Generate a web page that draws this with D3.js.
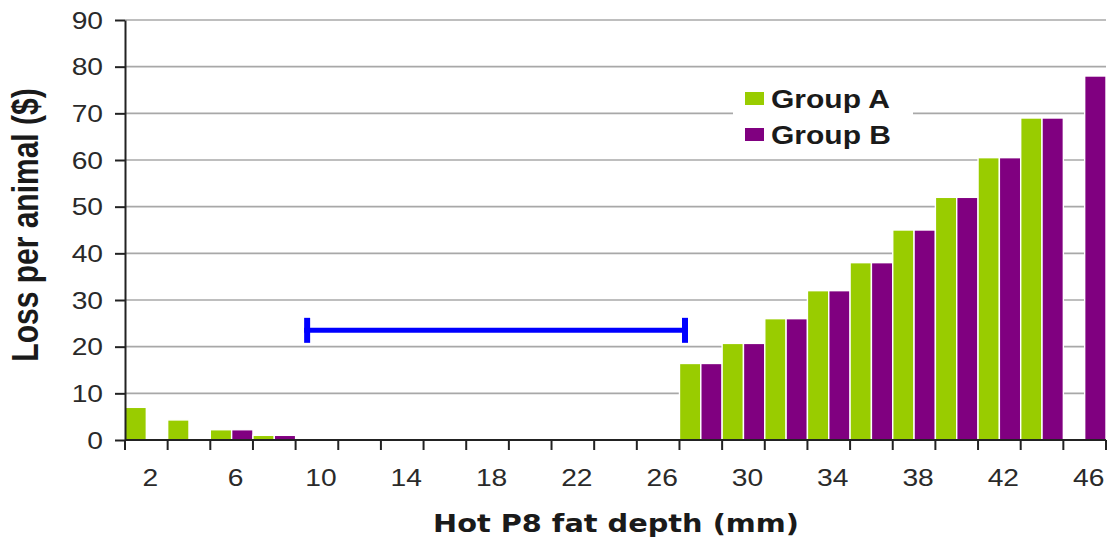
<!DOCTYPE html>
<html>
<head>
<meta charset="utf-8">
<script src="https://cdn.jsdelivr.net/npm/d3@7"></script>
<style>
  html, body { margin: 0; padding: 0; background: #fff; }
  svg { display: block; }
</style>
</head>
<body>
<svg id="chart" width="1108" height="545"></svg>
<script>
// Fat depth categories (mm) and loss per animal ($) for each group
const categories = [2, 4, 6, 8, 10, 12, 14, 16, 18, 20, 22, 24, 26, 28, 30, 32, 34, 36, 38, 40, 42, 44, 46];
const groupA = [7, 4.3, 2.2, 1, 0, 0, 0, 0, 0, 0, 0, 0, 0, 16.4, 20.7, 26, 32, 38, 45, 52, 60.5, 69, 0];
const groupB = [0, 0, 2.2, 1, 0, 0, 0, 0, 0, 0, 0, 0, 0, 16.4, 20.7, 26, 32, 38, 45, 52, 60.5, 69, 78];
const seriesNames = ["Group A", "Group B"];
const seriesColors = ["#99cc00", "#800080"];
const xTickLabels = [2, 6, 10, 14, 18, 22, 26, 30, 34, 38, 42, 46];
const yTicks = [0, 10, 20, 30, 40, 50, 60, 70, 80, 90];
// Zero-loss fat range marker (mm) and its height on the loss axis ($)
const rangeMarker = [9.4, 27.4];
const rangeMarkerLevel = 23.5;

const svg = d3.select("#chart");
const plotLeft = 125, plotRight = 1106, plotTop = 20, plotBottom = 440;
const stretch = "scale(1.2,1)";

const x = d3.scaleBand().domain(categories).range([plotLeft, plotRight]).paddingInner(0).paddingOuter(0);
const xGroup = d3.scaleBand().domain(seriesNames).range([0, x.bandwidth()]).padding(0);
// continuous mm scale aligned with the category bands (each band spans ±1 mm)
const xMm = d3.scaleLinear().domain([categories[0] - 1, categories[categories.length - 1] + 1]).range([plotLeft, plotRight]);
const y = d3.scaleLinear().domain([0, 90]).range([plotBottom, plotTop]);

// horizontal gridlines
svg.append("g")
  .selectAll("line")
  .data(yTicks.filter(d => d > 0))
  .join("line")
  .attr("x1", plotLeft).attr("x2", plotRight)
  .attr("y1", d => y(d)).attr("y2", d => y(d))
  .attr("stroke", "#a8a8a8")
  .attr("stroke-width", 1.6);

// bars
const rows = [];
categories.forEach((c, i) => {
  rows.push({ cat: c, series: seriesNames[0], value: groupA[i], color: seriesColors[0] });
  rows.push({ cat: c, series: seriesNames[1], value: groupB[i], color: seriesColors[1] });
});
svg.append("g")
  .selectAll("rect")
  .data(rows.filter(d => d.value > 0))
  .join("rect")
  .attr("x", d => x(d.cat) + xGroup(d.series))
  .attr("y", d => y(d.value))
  .attr("width", xGroup.bandwidth())
  .attr("height", d => y(0) - y(d.value))
  .attr("fill", d => d.color)
  .attr("stroke", "#ffffff")
  .attr("stroke-width", 1.4);

// y axis
const yAxis = svg.append("g").attr("transform", `translate(${plotLeft},0)`)
  .call(d3.axisLeft(y).tickValues(yTicks).tickSize(10).tickSizeOuter(0).tickFormat(d3.format("d")));
yAxis.select(".domain").attr("stroke", "#222").attr("stroke-width", 2);
yAxis.selectAll(".tick line").attr("stroke", "#222").attr("stroke-width", 2);
yAxis.selectAll(".tick text")
  .attr("x", null).attr("dy", null)
  .attr("transform", `translate(-22,0) ${stretch}`)
  .attr("dominant-baseline", "central")
  .attr("text-anchor", "end")
  .attr("fill", "#2a2a2a")
  .style("font-family", "'Liberation Sans', Arial, sans-serif")
  .style("font-size", "23.5px");

// x axis: ticks at category boundaries, labels on every other category
const xAxisG = svg.append("g").attr("transform", `translate(0,${plotBottom})`);
xAxisG.append("line")
  .attr("x1", plotLeft).attr("x2", plotRight).attr("y1", 0).attr("y2", 0)
  .attr("stroke", "#222").attr("stroke-width", 2);
const boundaries = categories.map(c => x(c)).concat([x(categories[categories.length - 1]) + x.bandwidth()]);
xAxisG.selectAll("line.tick")
  .data(boundaries)
  .join("line")
  .attr("class", "tick")
  .attr("x1", d => d).attr("x2", d => d)
  .attr("y1", 0).attr("y2", 10)
  .attr("stroke", "#222").attr("stroke-width", 2);
xAxisG.selectAll("text")
  .data(xTickLabels)
  .join("text")
  .attr("transform", d => `translate(${x(d) + x.bandwidth() / 2 + 4},46) ${stretch}`)
  .attr("text-anchor", "middle")
  .attr("fill", "#2a2a2a")
  .style("font-family", "'Liberation Sans', Arial, sans-serif")
  .style("font-size", "23.5px")
  .text(d => d);

// axis titles
svg.append("text")
  .attr("transform", `translate(616,532) ${stretch}`)
  .attr("text-anchor", "middle")
  .attr("fill", "#1a1a1a")
  .style("font-family", "'DejaVu Sans', Verdana, sans-serif")
  .style("font-weight", "bold")
  .style("font-size", "24px")
  .text("Hot P8 fat depth (mm)");

svg.append("text")
  .attr("transform", `translate(38,225) ${stretch} rotate(-90)`)
  .attr("text-anchor", "middle")
  .attr("fill", "#1a1a1a")
  .style("font-family", "'Liberation Sans', Arial, sans-serif")
  .style("font-weight", "bold")
  .style("font-size", "30px")
  .text("Loss per animal ($)");

// range marker with end caps
const marker = svg.append("g").attr("stroke", "#0000ff").attr("fill", "none");
marker.append("line")
  .attr("x1", xMm(rangeMarker[0])).attr("x2", xMm(rangeMarker[1]))
  .attr("y1", y(rangeMarkerLevel)).attr("y2", y(rangeMarkerLevel))
  .attr("stroke-width", 5);
marker.selectAll("line.cap")
  .data(rangeMarker)
  .join("line")
  .attr("class", "cap")
  .attr("x1", (d, i) => xMm(d) + (i === 0 ? 3 : -3))
  .attr("x2", (d, i) => xMm(d) + (i === 0 ? 3 : -3))
  .attr("y1", y(rangeMarkerLevel) - 12.5)
  .attr("y2", y(rangeMarkerLevel) + 12.5)
  .attr("stroke-width", 6);

// legend
const legend = svg.append("g").attr("transform", "translate(733,72)");
legend.append("rect")
  .attr("x", 0).attr("y", 0).attr("width", 180).attr("height", 84)
  .attr("fill", "#fff");
const items = legend.selectAll("g.item")
  .data(seriesNames)
  .join("g")
  .attr("class", "item")
  .attr("transform", (d, i) => `translate(12,${20 + i * 36})`);
items.append("rect")
  .attr("width", 19).attr("height", 13)
  .attr("fill", (d, i) => seriesColors[i]);
items.append("text")
  .attr("transform", `translate(26,15.5) ${stretch}`)
  .attr("fill", "#1a1a1a")
  .style("font-family", "'Liberation Sans', Arial, sans-serif")
  .style("font-weight", "bold")
  .style("font-size", "25px")
  .text(d => d);
</script>
</body>
</html>
